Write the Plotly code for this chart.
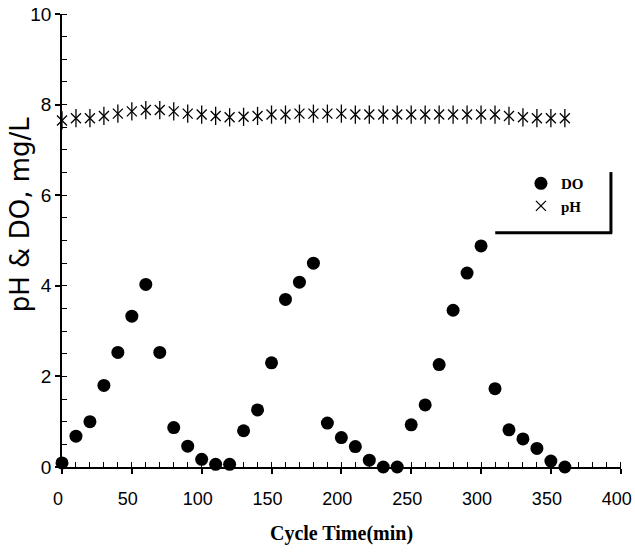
import plotly.graph_objects as go

time_do = [0, 10, 20, 30, 40, 50, 60, 70, 80, 90, 100, 110, 120, 130, 140, 150, 160, 170, 180,
           190, 200, 210, 220, 230, 240, 250, 260, 270, 280, 290, 300, 310, 320, 330, 340, 350, 360]
do_vals = [0.09, 0.68, 1.0, 1.8, 2.53, 3.33, 4.03, 2.53, 0.87, 0.46, 0.17, 0.06, 0.06, 0.8, 1.26,
           2.3, 3.7, 4.08, 4.5, 0.97, 0.65, 0.45, 0.15, 0.0, 0.0, 0.93, 1.37, 2.26, 3.46, 4.28,
           4.88, 1.73, 0.82, 0.62, 0.41, 0.13, 0.0]
time_ph = time_do
ph_vals = [7.65, 7.7, 7.7, 7.75, 7.8, 7.85, 7.88, 7.88, 7.85, 7.8, 7.78, 7.75, 7.72, 7.73, 7.75,
           7.78, 7.78, 7.8, 7.8, 7.8, 7.8, 7.78, 7.78, 7.78, 7.78, 7.78, 7.78, 7.78, 7.78, 7.78,
           7.78, 7.78, 7.75, 7.72, 7.7, 7.7, 7.7]

x_ticks = [0, 50, 100, 150, 200, 250, 300, 350, 400]
y_ticks = [0, 2, 4, 6, 8, 10]

fig = go.Figure()
fig.add_trace(go.Scatter(x=time_do, y=do_vals, mode="markers", name="<b>DO</b>",
                         marker=dict(symbol="circle", size=13, color="black"),
                         cliponaxis=False))
fig.add_trace(go.Scatter(x=time_ph, y=ph_vals, mode="markers", name="<b>pH</b>",
                         legendgroup="ph",
                         marker=dict(symbol="x-thin-open", size=10, color="black",
                                     line=dict(color="black", width=1.3)),
                         cliponaxis=False))
fig.add_trace(go.Scatter(x=time_ph, y=ph_vals, mode="markers", name="pH",
                         legendgroup="ph", showlegend=False,
                         marker=dict(symbol="line-ns-open", size=13, color="black",
                                     line=dict(color="black", width=1.3)),
                         cliponaxis=False))

fig.update_layout(
    width=635, height=554,
    margin=dict(l=62, r=14, t=14, b=87, autoexpand=False),
    paper_bgcolor="white", plot_bgcolor="white",
    showlegend=True,
    legend=dict(x=0.821, y=0.662, xanchor="left", yanchor="top",
                bgcolor="rgba(0,0,0,0)", borderwidth=0, tracegroupgap=0,
                font=dict(family="Liberation Serif", size=15, color="black"),
                itemsizing="trace"),
    shapes=[
        dict(type="line", xref="paper", yref="paper", x0=0.982, x1=0.982, y0=0.651, y1=0.515,
             line=dict(color="black", width=3)),
        dict(type="line", xref="paper", yref="paper", x0=0.775, x1=0.984, y0=0.517, y1=0.517,
             line=dict(color="black", width=3)),
    ],
    annotations=[
        dict(text="pH & DO, mg/L", xref="paper", yref="paper", x=-0.075, y=0.556,
             xanchor="center", yanchor="middle", textangle=-90, showarrow=False,
             font=dict(family="DejaVu Sans", size=26, color="black")),
    ],
)

fig.update_xaxes(
    range=[0, 400.2], tickvals=x_ticks, ticktext=[str(v) for v in x_ticks],
    automargin=False,
    showgrid=False, zeroline=False, showline=True, linecolor="black", linewidth=1.5,
    ticks="outside", ticklen=5, tickwidth=1.5, tickcolor="black",
    ticklabelstandoff=10, ticklabeloverflow="allow", ticklabelshift=-4,
    minor=dict(dtick=10, ticks="inside", ticklen=5, tickwidth=1, tickcolor="black"),
    tickfont=dict(family="Liberation Sans Narrow, Liberation Sans", size=18, color="black"),
    title=dict(text="<b>Cycle Time(min)</b>", standoff=18,
               font=dict(family="Liberation Serif", size=20, color="black")),
)
fig.update_yaxes(
    range=[0, 10], tickvals=y_ticks, ticktext=[str(v) for v in y_ticks],
    automargin=False,
    showgrid=False, zeroline=False, showline=True, linecolor="black", linewidth=1.5,
    ticks="outside", ticklen=5, tickwidth=1.5, tickcolor="black",
    minor=dict(dtick=0.5, ticks="inside", ticklen=5, tickwidth=1, tickcolor="black"),
    tickfont=dict(family="Liberation Sans", size=19, color="black"),
)

fig.write_html("out.html")
